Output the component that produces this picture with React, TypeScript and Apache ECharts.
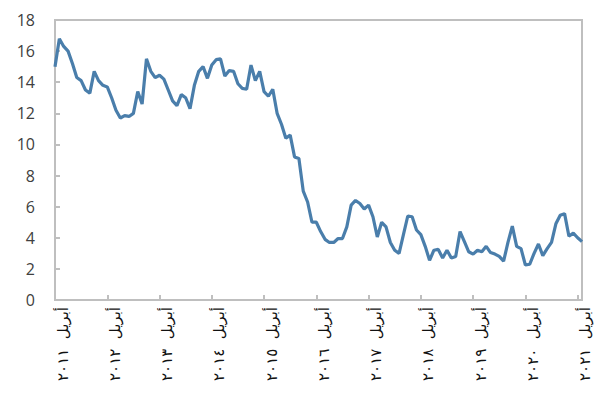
import React, { useEffect, useRef } from "react";
import * as echarts from "echarts";

const monthNames = ["يناير", "فبراير", "مارس", "أبريل", "مايو", "يونيو", "يوليو", "أغسطس", "سبتمبر", "أكتوبر", "نوفمبر", "ديسمبر"];
const arabicDigits = ["٠", "١", "٢", "٣", "٤", "٥", "٦", "٧", "٨", "٩"];
const startYear = 2011;
const startMonth = 3; // April

const values = [
  15.0, 16.8, 16.3, 16.0, 15.2, 14.3, 14.1, 13.5, 13.3, 14.7, 14.1, 13.8,
  13.7, 13.0, 12.2, 11.7, 11.85, 11.8, 12.0, 13.4, 12.6, 15.5, 14.7, 14.3,
  14.45, 14.2, 13.5, 12.8, 12.5, 13.2, 13.0, 12.3, 13.8, 14.7, 15.0, 14.25,
  15.1, 15.45, 15.5, 14.4, 14.75, 14.7, 13.9, 13.6, 13.55, 15.1, 14.1, 14.7,
  13.4, 13.1, 13.55, 12.0, 11.3, 10.4, 10.6, 9.2, 9.1, 7.0, 6.3, 5.0,
  5.0, 4.4, 3.9, 3.7, 3.7, 3.95, 3.95, 4.7, 6.1, 6.4, 6.2, 5.85,
  6.1, 5.35, 4.05, 5.0, 4.7, 3.7, 3.2, 3.0, 4.2, 5.4, 5.35, 4.5,
  4.2, 3.45, 2.55, 3.2, 3.25, 2.7, 3.2, 2.7, 2.8, 4.4, 3.75, 3.1,
  2.95, 3.2, 3.1, 3.45, 3.05, 2.95, 2.8, 2.5, 3.7, 4.75, 3.45, 3.3,
  2.25, 2.3, 3.0, 3.6, 2.85, 3.3, 3.7, 4.9, 5.45, 5.55, 4.1, 4.3,
  4.0, 3.75,
];

const toArabicDigits = (n: number) => String(n).split("").map((d) => arabicDigits[+d]).join("");

const categories = values.map((_, i) => {
  const m = (startMonth + i) % 12;
  const y = startYear + Math.floor((startMonth + i) / 12);
  return monthNames[m] + "  " + toArabicDigits(y);
});

export default function App() {
  const ref = useRef<HTMLDivElement>(null);
  useEffect(() => {
    if (!ref.current) return;
    const chart = echarts.init(ref.current, undefined, { renderer: "svg" });
    const frame = "#bfbfbf";
    chart.setOption({
      animation: false,
      backgroundColor: "#ffffff",
      grid: {
        left: 55,
        top: 20,
        right: 15,
        bottom: 95,
        show: true,
        borderColor: frame,
        borderWidth: 2,
        containLabel: false,
      },
      xAxis: {
        type: "category",
        data: categories,
        boundaryGap: false,
        axisLine: { lineStyle: { color: frame, width: 2 } },
        axisTick: { inside: true, length: 5, interval: 11, lineStyle: { color: frame, width: 2 } },
        axisLabel: {
          interval: 11,
          rotate: 90,
          margin: 7,
          fontSize: 15,
          fontFamily: "DejaVu Sans",
          color: "#111",
          verticalAlign: "top",
        },
        splitLine: { show: false },
      },
      yAxis: {
        type: "value",
        min: 0,
        max: 18,
        interval: 2,
        axisLine: { show: true, lineStyle: { color: frame, width: 2 } },
        axisTick: { show: true, inside: true, length: 5, lineStyle: { color: frame, width: 2 } },
        axisLabel: { fontSize: 16, fontFamily: "Open Sans", color: "#404040", margin: 20 },
        splitLine: { show: false },
      },
      series: [
        {
          type: "line",
          data: values,
          symbol: "none",
          lineStyle: { color: "#4a7eab", width: 3.2 },
        },
      ],
    });
    return () => chart.dispose();
  }, []);
  return <div ref={ref} style={{ position: "fixed", left: 0, top: 0, width: 597, height: 395 }} />;
}
